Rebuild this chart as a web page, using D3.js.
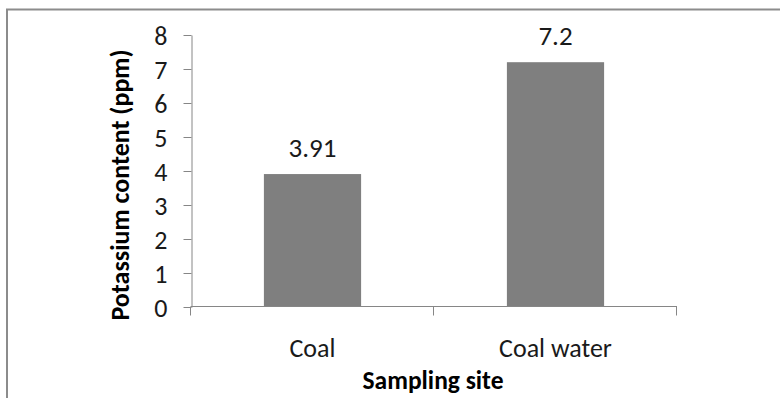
<!DOCTYPE html>
<html>
<head>
<meta charset="utf-8">
<script src="https://cdn.jsdelivr.net/npm/d3@7"></script>
<style>
  html, body { margin: 0; padding: 0; background: #fff; }
  svg text { font-family: Calibri, Carlito, Lato, sans-serif; }
</style>
</head>
<body>
<svg id="chart" width="780" height="398"></svg>
<script>
// Potassium content by sampling site
const sites = ["Coal", "Coal water"];
const potassium = [3.91, 7.2];
const yTicks = [0, 1, 2, 3, 4, 5, 6, 7, 8];

const svg = d3.select("#chart");
const plot = { left: 191, right: 677, top: 35, bottom: 307 };

// Outer frame: top and left edges
svg.append("line").attr("x1", 6).attr("x2", 780).attr("y1", 9.5).attr("y2", 9.5)
  .attr("stroke", "#8c8c8c").attr("stroke-width", 2);
svg.append("line").attr("x1", 7).attr("x2", 7).attr("y1", 9).attr("y2", 398)
  .attr("stroke", "#8c8c8c").attr("stroke-width", 2);

const x = d3.scaleBand().domain(sites).range([plot.left, plot.right]).paddingInner(0.6).paddingOuter(0.3);
const xOuter = d3.scaleBand().domain(sites).range([plot.left, plot.right]);
const y = d3.scaleLinear().domain([0, 8]).range([plot.bottom, plot.top]);

// Bars
svg.append("g").selectAll("rect").data(sites).join("rect")
  .attr("x", d => x(d))
  .attr("width", x.bandwidth())
  .attr("y", (d, i) => y(potassium[i]))
  .attr("height", (d, i) => y(0) - y(potassium[i]))
  .attr("fill", "#7f7f7f");

// Value labels
svg.append("g").selectAll("text").data(sites).join("text")
  .attr("x", d => x(d) + x.bandwidth() / 2)
  .attr("y", (d, i) => y(potassium[i]) - 17)
  .attr("text-anchor", "middle")
  .attr("font-size", 27)
  .attr("fill", "#1a1a1a")
  .text((d, i) => String(potassium[i]));

// Y axis
const yAxis = svg.append("g").attr("transform", `translate(${plot.left + 0.5},0)`)
  .call(d3.axisLeft(y).tickValues(yTicks).tickFormat(d3.format("d")).tickSizeInner(8).tickSizeOuter(0).tickPadding(16));
yAxis.select(".domain").attr("stroke", "#868686");
yAxis.selectAll(".tick line").attr("stroke", "#868686");
yAxis.selectAll(".tick text").attr("font-size", 26).attr("fill", "#1a1a1a").attr("dy", "0.35em");

// X axis: boundary ticks between categories
const xAxis = svg.append("g").attr("transform", `translate(0,${plot.bottom - 0.5})`);
xAxis.append("line").attr("x1", plot.left).attr("x2", plot.right)
  .attr("stroke", "#868686");
const boundaries = [plot.left, ...sites.map(s => xOuter(s) + xOuter.bandwidth())];
xAxis.selectAll("line.tick").data(boundaries).join("line").attr("class", "tick")
  .attr("x1", d => Math.round(d) - 0.5).attr("x2", d => Math.round(d) - 0.5)
  .attr("y1", 0).attr("y2", 9).attr("stroke", "#868686");
xAxis.selectAll("text").data(sites).join("text")
  .attr("x", d => xOuter(d) + xOuter.bandwidth() / 2)
  .attr("y", 50)
  .attr("text-anchor", "middle")
  .attr("font-size", 26)
  .attr("fill", "#1a1a1a")
  .text(d => d);

// Axis titles
svg.append("text")
  .attr("x", (plot.left + plot.right) / 2 - 1)
  .attr("y", 389)
  .attr("text-anchor", "middle")
  .attr("font-size", 25.5)
  .attr("font-weight", "bold")
  .text("Sampling site");

svg.append("text")
  .attr("transform", "translate(129,185) rotate(-90)")
  .attr("text-anchor", "middle")
  .attr("font-size", 26)
  .attr("font-weight", "bold")
  .text("Potassium content (ppm)");
</script>
</body>
</html>
